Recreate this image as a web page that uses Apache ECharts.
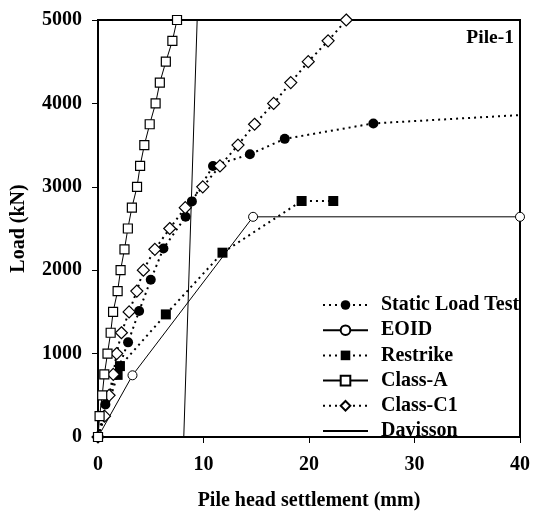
<!DOCTYPE html>
<html><head><meta charset="utf-8">
<script src="https://cdn.jsdelivr.net/npm/echarts@6/dist/echarts.min.js"></script>
<style>html,body{margin:0;padding:0;background:#fff}#c{width:533px;height:516px}</style>
</head><body><div id="c"></div>
<script>
const FONT = '"Liberation Serif","Times New Roman",serif';
const xTicks = [0, 10, 20, 30, 40];
const yTicks = [0, 1000, 2000, 3000, 4000, 5000];

const staticX = [0, 0.7, 2.85, 3.9, 5.0, 6.2, 8.3, 8.9, 10.9, 14.4, 17.7, 26.1, 40];
const staticY = [0, 390, 1135, 1510, 1885, 2260, 2640, 2825, 3250, 3390, 3575, 3760, 3860];

const eoidX = [0, 3.27, 14.7, 40];
const eoidY = [0, 740, 2640, 2640];

const restrikeX = [0, 1.86, 2.08, 6.43, 11.8, 19.3, 22.3];
const restrikeY = [0, 745, 850, 1470, 2210, 2830, 2830];

const classAX = [0, 0.15, 0.4, 0.6, 0.9, 1.2, 1.43, 1.86, 2.14, 2.51, 2.83, 3.21, 3.70, 3.99, 4.39, 4.90, 5.46, 5.86, 6.43, 7.05, 7.49];
const classAY = [0, 250, 500, 750, 1000, 1250, 1500, 1750, 2000, 2250, 2500, 2750, 3000, 3250, 3500, 3750, 4000, 4250, 4500, 4750, 5000];

const classC1X = [0, 0.61, 1.05, 1.45, 1.77, 2.22, 2.95, 3.68, 4.3, 5.39, 6.8, 8.27, 9.93, 11.56, 13.27, 14.84, 16.65, 18.27, 19.93, 21.81, 23.53];
const classC1Y = [0, 250, 500, 750, 1000, 1250, 1500, 1750, 2000, 2250, 2500, 2750, 3000, 3250, 3500, 3750, 4000, 4250, 4500, 4750, 5000];

const davissonX = [8.13, 9.4];
const davissonY = [0, 5000];

const names = ['Static Load Test', 'EOID', 'Restrike', 'Class-A', 'Class-C1', 'Davisson'];

function pairs(xs, ys) { return xs.map((x, i) => [x, ys[i]]); }

const dotted = { color: '#000', width: 2, type: [2, 4] };
const solid = { color: '#000', width: 1, type: 'solid' };

const staticData = pairs(staticX, staticY).map((p, i) => i === staticX.length - 1 ? { value: p, symbol: 'none' } : p);

const chart = echarts.init(document.getElementById('c'), null, { renderer: 'canvas' });
chart.setOption({
  animation: false,
  backgroundColor: '#fff',
  textStyle: { fontFamily: FONT },
  grid: { left: 98, right: 10, top: 20, bottom: 75, show: true, borderColor: '#000', borderWidth: 2, backgroundColor: 'transparent' },
  xAxis: {
    type: 'value', min: xTicks[0], max: xTicks[xTicks.length - 1], interval: 10,
    name: 'Pile head settlement (mm)', nameLocation: 'middle', nameGap: 54,
    nameTextStyle: { fontFamily: FONT, fontWeight: 'bold', fontSize: 20, color: '#000' },
    axisLine: { lineStyle: { color: '#000', width: 2 } },
    axisTick: { show: true, inside: false, length: 6, lineStyle: { color: '#000', width: 1 } },
    axisLabel: { margin: 18, fontFamily: FONT, fontWeight: 'bold', fontSize: 20, color: '#000' },
    splitLine: { show: false }
  },
  yAxis: {
    type: 'value', min: yTicks[0], max: yTicks[yTicks.length - 1], interval: 1000,
    name: 'Load (kN)', nameLocation: 'middle', nameGap: 69, nameRotate: 90,
    nameTextStyle: { fontFamily: FONT, fontWeight: 'bold', fontSize: 20, color: '#000' },
    axisLine: { lineStyle: { color: '#000', width: 2 } },
    axisTick: { show: true, inside: false, length: 6, lineStyle: { color: '#000', width: 1 } },
    axisLabel: { margin: 16, fontFamily: FONT, fontWeight: 'bold', fontSize: 20, color: '#000', formatter: v => String(v) },
    splitLine: { show: false }
  },
  legend: {
    orient: 'vertical', left: 322, top: 295, padding: 0,
    itemWidth: 45, itemHeight: 12, itemGap: 5.2,
    data: names,
    textStyle: { fontFamily: FONT, fontWeight: 'bold', fontSize: 20, color: '#000', lineHeight: 20, padding: [0, 0, 0, 8] }
  },
  graphic: [{
    type: 'text', right: 19, top: 28,
    style: { text: 'Pile-1', font: 'bold 19.5px ' + FONT, fill: '#000' }
  }],
  series: [
    { name: 'Davisson', type: 'line', data: pairs(davissonX, davissonY), symbol: 'none', lineStyle: solid, itemStyle: { color: 'rgba(0,0,0,0)', borderColor: 'rgba(0,0,0,0)', borderWidth: 0 }, z: 1 },
    { name: 'EOID', type: 'line', data: pairs(eoidX, eoidY), symbol: 'circle', symbolSize: 9, lineStyle: solid, itemStyle: { color: '#fff', borderColor: '#000', borderWidth: 1 }, z: 2 },
    { name: 'Restrike', type: 'line', data: pairs(restrikeX, restrikeY), symbol: 'rect', symbolSize: 10, lineStyle: dotted, itemStyle: { color: '#000', borderColor: '#000', borderWidth: 0 }, z: 3 },
    { name: 'Static Load Test', type: 'line', data: staticData, symbol: 'circle', symbolSize: 10, lineStyle: dotted, itemStyle: { color: '#000', borderColor: '#000', borderWidth: 0 }, z: 4 },
    { name: 'Class-C1', type: 'line', data: pairs(classC1X, classC1Y), symbol: 'diamond', symbolSize: 12, lineStyle: dotted, itemStyle: { color: '#fff', borderColor: '#000', borderWidth: 1.2 }, z: 5 },
    { name: 'Class-A', type: 'line', data: pairs(classAX, classAY), symbol: 'rect', symbolSize: 9, lineStyle: solid, itemStyle: { color: '#fff', borderColor: '#000', borderWidth: 1.2 }, z: 6 }
  ]
});
</script></body></html>
